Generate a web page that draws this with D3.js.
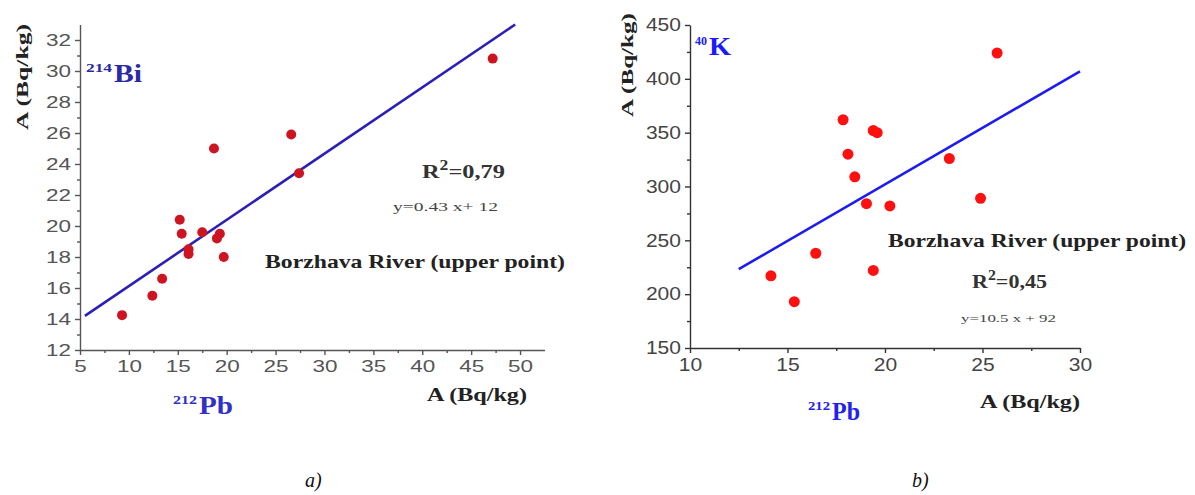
<!DOCTYPE html>
<html><head><meta charset="utf-8">
<script src="https://cdn.jsdelivr.net/npm/d3@7"></script>
<style>body{margin:0;background:#fff}svg{display:block}</style>
</head><body>
<svg id="c" width="1195" height="495"></svg>
<script>
// ---- Data chart a) 212Pb vs 214Bi ----
const aX = [9.3, 12.4, 13.4, 15.2, 15.4, 16.1, 16.1, 17.5, 19.0, 19.3, 19.7, 18.7, 26.6, 27.4, 47.2];
const aY = [14.25, 15.5, 16.6, 20.4, 19.5, 18.5, 18.2, 19.6, 19.2, 19.5, 18.0, 25.0, 25.9, 23.4, 30.8];
const aFitX = [5.5, 49.5];
const aFitY = [14.2, 33.0];
const aXTicks = [5, 10, 15, 20, 25, 30, 35, 40, 45, 50];
const aYTicks = [12, 14, 16, 18, 20, 22, 24, 26, 28, 30, 32];
// ---- Data chart b) 212Pb vs 40K ----
const bX = [14.15, 15.35, 16.45, 17.85, 18.1, 18.45, 19.05, 19.4, 19.6, 19.4, 20.25, 23.3, 24.9, 25.75];
const bY = [217, 193, 238, 362, 330, 309, 284, 352, 350, 222, 282, 326, 289, 424];
const bFitX = [12.5, 30];
const bSlope = 10.5, bIntercept = 92;
const bXTicks = [10, 15, 20, 25, 30];
const bYTicks = [150, 200, 250, 300, 350, 400, 450];

const svg = d3.select("#c");
const serif = "Liberation Serif, Times New Roman, serif";
const sans = "Liberation Sans, Arial, sans-serif";

function axes(g, x, y, xt, yt, xminor, yminor, col, tcol, fs, cw) {
  g.append("g").attr("transform", `translate(0,${y.range()[0]})`)
    .call(d3.axisBottom(x).tickValues(xt).tickSize(5).tickPadding(5).tickSizeOuter(0));
  g.append("g").attr("transform", `translate(0,${y.range()[0]})`)
    .call(d3.axisBottom(x).tickValues(xminor).tickSize(3).tickFormat("").tickSizeOuter(0))
    .select(".domain").remove();
  g.append("g").attr("transform", `translate(${x.range()[0]},0)`)
    .call(d3.axisLeft(y).tickValues(yt).tickSize(5).tickPadding(4).tickSizeOuter(0));
  g.append("g").attr("transform", `translate(${x.range()[0]},0)`)
    .call(d3.axisLeft(y).tickValues(yminor).tickSize(3).tickFormat("").tickSizeOuter(0))
    .select(".domain").remove();
  g.selectAll(".domain, .tick line").attr("stroke", col).attr("stroke-width", 1.4);
  g.selectAll(".tick text").attr("fill", tcol).attr("font-family", sans).attr("font-size", fs)
    .attr("textLength", d => String(d).length * cw).attr("lengthAdjust", "spacingAndGlyphs");
}

function label(g, x, y, txt, fs, len, opts = {}) {
  const t = g.append("text").attr("x", x).attr("y", y)
    .attr("font-family", serif).attr("font-weight", opts.weight || "bold")
    .attr("font-size", fs).attr("fill", opts.fill || "#222")
    .attr("textLength", len).attr("lengthAdjust", "spacingAndGlyphs").text(txt);
  if (opts.anchor) t.attr("text-anchor", opts.anchor);
  if (opts.transform) t.attr("transform", opts.transform);
  return t;
}

function iso(g, x, y, sup, sym, supLen, symLen, fill) {
  g.append("text").attr("x", x).attr("y", y - 10).attr("font-family", serif).attr("font-weight", "bold")
    .attr("font-size", 12).attr("fill", fill).attr("textLength", supLen).attr("lengthAdjust", "spacingAndGlyphs").text(sup);
  g.append("text").attr("x", x + supLen + 2).attr("y", y).attr("font-family", serif).attr("font-weight", "bold")
    .attr("font-size", 25).attr("fill", fill).attr("textLength", symLen).attr("lengthAdjust", "spacingAndGlyphs").text(sym);
}

function r2(g, x, y, val, fs, total, fill) {
  const t = g.append("text").attr("x", x).attr("y", y).attr("font-family", serif).attr("font-weight", "bold")
    .attr("font-size", fs).attr("fill", fill);
  t.append("tspan").text("R");
  t.append("tspan").attr("dy", -8).attr("font-size", fs * 0.72).text("2");
  t.append("tspan").attr("dy", 8).text("=" + val);
  const w = t.node().getComputedTextLength();
  t.attr("transform", `translate(${x},0) scale(${total / w},1) translate(${-x},0)`);
}

// ===== Chart a =====
{
  const g = svg.append("g");
  const x = d3.scaleLinear().domain([5, 52.5]).range([80, 544.5]);
  const y = d3.scaleLinear().domain([12, 33]).range([350, 24.5]);
  axes(g, x, y, aXTicks, aYTicks, d3.range(7.5, 52.5, 5), d3.range(13, 33, 2), "#555", "#555", 17, 12.5);
  g.append("line")
    .attr("x1", x(aFitX[0])).attr("y1", y(aFitY[0]))
    .attr("x2", x(aFitX[1])).attr("y2", y(aFitY[1]))
    .attr("stroke", "#2b1fb8").attr("stroke-width", 2.6);
  g.selectAll("circle").data(aX).join("circle")
    .attr("cx", d => x(d)).attr("cy", (d, i) => y(aY[i])).attr("r", 5)
    .attr("fill", "#cc1520");
  iso(g, 86, 82, "214", "Bi", 26, 28, "#2a2aa8");
  iso(g, 173, 414, "212", "Pb", 24, 34, "#3030c8");
  label(g, 0, 0, "A (Bq/kg)", 17, 106, { anchor: "middle", transform: "translate(28,77) rotate(-90)" });
  label(g, 427, 401, "A (Bq/kg)", 18, 100);
  r2(g, 422, 178, "0,79", 19, 83, "#333");
  label(g, 393, 211, "y=0.43 x+ 12", 12, 105, { weight: "normal", fill: "#444" });
  label(g, 265, 268, "Borzhava River (upper point)", 19, 300);
}

// ===== Chart b =====
{
  const g = svg.append("g");
  const x = d3.scaleLinear().domain([10, 30]).range([690, 1080]);
  const y = d3.scaleLinear().domain([150, 450]).range([348, 25]);
  axes(g, x, y, bXTicks, bYTicks, d3.range(12.5, 30, 5), d3.range(175, 450, 50), "#333", "#444", 18, 11.7);
  g.append("line")
    .attr("x1", x(bFitX[0])).attr("y1", y(bSlope * bFitX[0] + bIntercept))
    .attr("x2", x(bFitX[1])).attr("y2", y(bSlope * bFitX[1] + bIntercept))
    .attr("stroke", "#1c1cf0").attr("stroke-width", 2.6);
  g.selectAll("circle").data(bX).join("circle")
    .attr("cx", d => x(d)).attr("cy", (d, i) => y(bY[i])).attr("r", 5.5)
    .attr("fill", "#ff1010");
  iso(g, 695, 55, "40", "K", 12, 22, "#1a1aff");
  iso(g, 808, 420, "212", "Pb", 22, 28, "#2222ee");
  label(g, 0, 0, "A (Bq/kg)", 17, 104, { anchor: "middle", transform: "translate(633,65) rotate(-90)" });
  label(g, 980, 408, "A (Bq/kg)", 18, 100);
  label(g, 888, 247, "Borzhava River (upper point)", 19, 298);
  r2(g, 972, 288, "0,45", 19, 75, "#333");
  label(g, 961, 322, "y=10.5 x + 92", 11, 95, { weight: "normal", fill: "#444" });
}

// captions
svg.append("text").attr("x", 305).attr("y", 487).attr("font-family", serif).attr("font-style", "italic").attr("font-size", 20).attr("fill", "#111").text("a)");
svg.append("text").attr("x", 912).attr("y", 487).attr("font-family", serif).attr("font-style", "italic").attr("font-size", 20).attr("fill", "#111").text("b)");
</script>
</body></html>
